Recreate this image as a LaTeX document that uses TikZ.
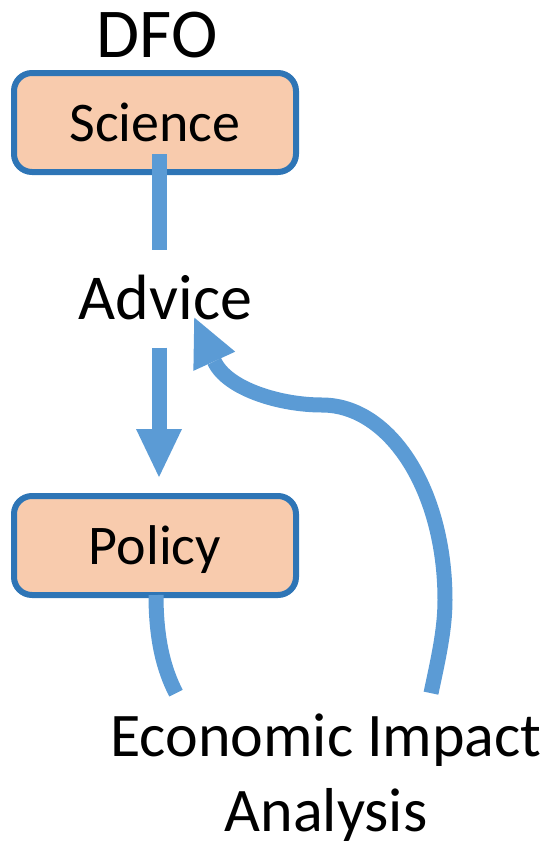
\documentclass[tikz,border=0pt]{standalone}
\usepackage{fontspec}
\setmainfont{Carlito}
\usetikzlibrary{arrows.meta,shapes,positioning}
\definecolor{boxline}{HTML}{2E75B6}
\definecolor{boxfill}{HTML}{F8CBAD}
\definecolor{flow}{HTML}{5B9BD5}
\begin{document}
\begin{tikzpicture}[x=1pt,y=-1pt]
                \tikzstyle{every node}+=[inner sep=0pt]
                \tikzstyle{box}=[draw=boxline, fill=boxfill, line width=6pt, rounded corners=18pt, minimum width=282pt, minimum height=99pt, text height=38pt, text depth=0pt, font=\fontsize{56}{60}\selectfont]
                \tikzstyle{lbl}=[font=\fontsize{64}{77}\selectfont, anchor=base, align=center]
                \tikzstyle{flowline}=[draw=flow, line width=15pt]
                \tikzstyle{head}=[-{Triangle[width=46pt,length=48pt,line width=0pt]}]
                \useasboundingbox (0,0) rectangle (556,849);
                \draw (157,57) node [anchor=base, font=\fontsize{70}{80}\selectfont] (dfo) {DFO};
                \node [box] (sci) at (155,122.5) {Science};
                \node [box] (pol) at (155,545.5) {Policy};
                \node [lbl] (advice) at (165.5,319) {Advice};
                \node [lbl, font=\fontsize{62}{75}\selectfont] (eia) at (326,831) {Economic Impact\\Analysis};
                \draw [flowline] ([xshift=4pt,yshift=21pt]sci.south) -- ([xshift=-6.5pt,yshift=24pt]advice.north);
                \draw [flowline, head] ([xshift=-6.5pt,yshift=-28pt]advice.south) -- ([xshift=4pt,yshift=16pt]pol.north);
                \draw [flowline] ([xshift=1pt,yshift=3pt]pol.south) .. controls (156,640) and (164,670) .. ([xshift=-150pt,yshift=20pt]eia.north);
                \draw [flowline, head] ([xshift=105pt,yshift=20pt]eia.north) .. controls (438,660) and (445,630) .. (445,600)
                    .. controls (445,490) and (390,405) .. (322,405)
                    .. controls (280,405) and (227,389) .. ([xshift=-58pt,yshift=2pt]advice.south east);
\end{tikzpicture}
\end{document}
